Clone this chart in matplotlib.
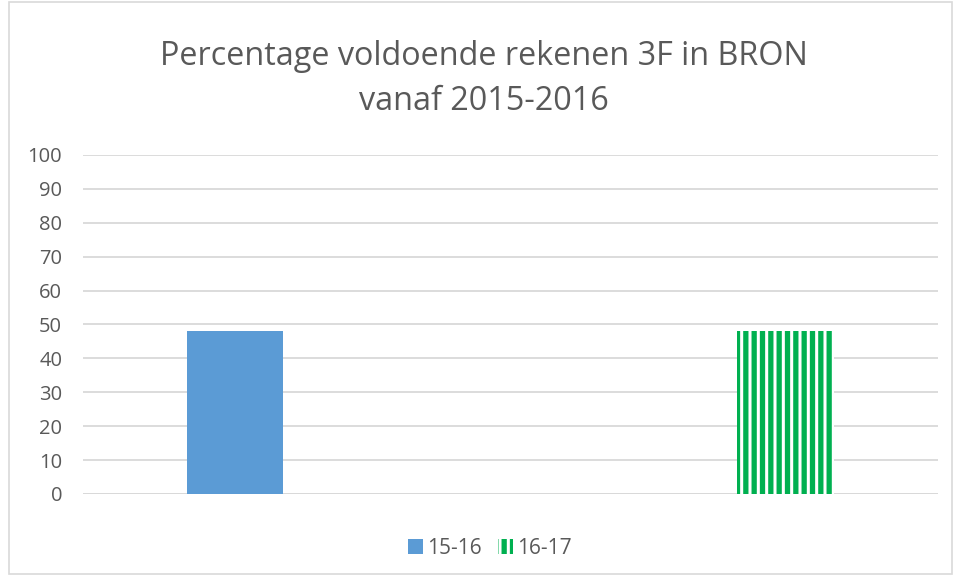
import matplotlib.pyplot as plt
from matplotlib.patches import Rectangle

# Data
series = ["15-16", "16-17"]
values = [48, 48]
offsets = [-0.322, 0.322]
ticks = list(range(0, 101, 10))

blue = "#5B9BD5"
green = "#00B050"
grey_text = "#595959"
grid_col = "#D9D9D9"

plt.rcParams['font.family'] = ['Open Sans', 'DejaVu Sans']
plt.rcParams['hatch.linewidth'] = 3.8

fig = plt.figure(figsize=(9.55, 5.76), dpi=100)
fig.patches.append(Rectangle((0.009, 0.003), 0.988, 0.994, transform=fig.transFigure,
                             fill=False, edgecolor=grid_col, linewidth=1.2))

ax = fig.add_axes([0.0869, 0.1424, 0.8951, 0.5886])

ax.bar(offsets[0], values[0], width=0.113, color=blue, label=series[0], zorder=3)
ax.bar(offsets[1], values[1], width=0.113, facecolor="white", edgecolor=green,
       hatch="||", linewidth=0, label=series[1], zorder=3)

ax.set_xlim(-0.5, 0.5)
ax.set_ylim(0, 100)
ax.set_yticks(ticks)
ax.set_xticks([])
ax.yaxis.grid(True, color=grid_col, linewidth=1.3, zorder=0)
ax.tick_params(axis='y', length=0, labelsize=14.5, labelcolor=grey_text, pad=15)
for s in ax.spines.values():
    s.set_visible(False)
ax.axhline(0, color=grid_col, linewidth=1.3, zorder=1)

fig.text(0.507, 0.863, "Percentage voldoende rekenen 3F in BRON\nvanaf 2015-2016",
         ha="center", va="center", fontsize=23.3, color=grey_text, linespacing=1.5)

leg = fig.legend(loc="center", bbox_to_anchor=(0.513, 0.048), ncol=2, frameon=False,
                 fontsize=15, handlelength=0.7, handleheight=0.7, columnspacing=0.8,
                 handletextpad=0.2)
for t in leg.get_texts():
    t.set_color(grey_text)

fig.savefig("out.png", dpi=100)
